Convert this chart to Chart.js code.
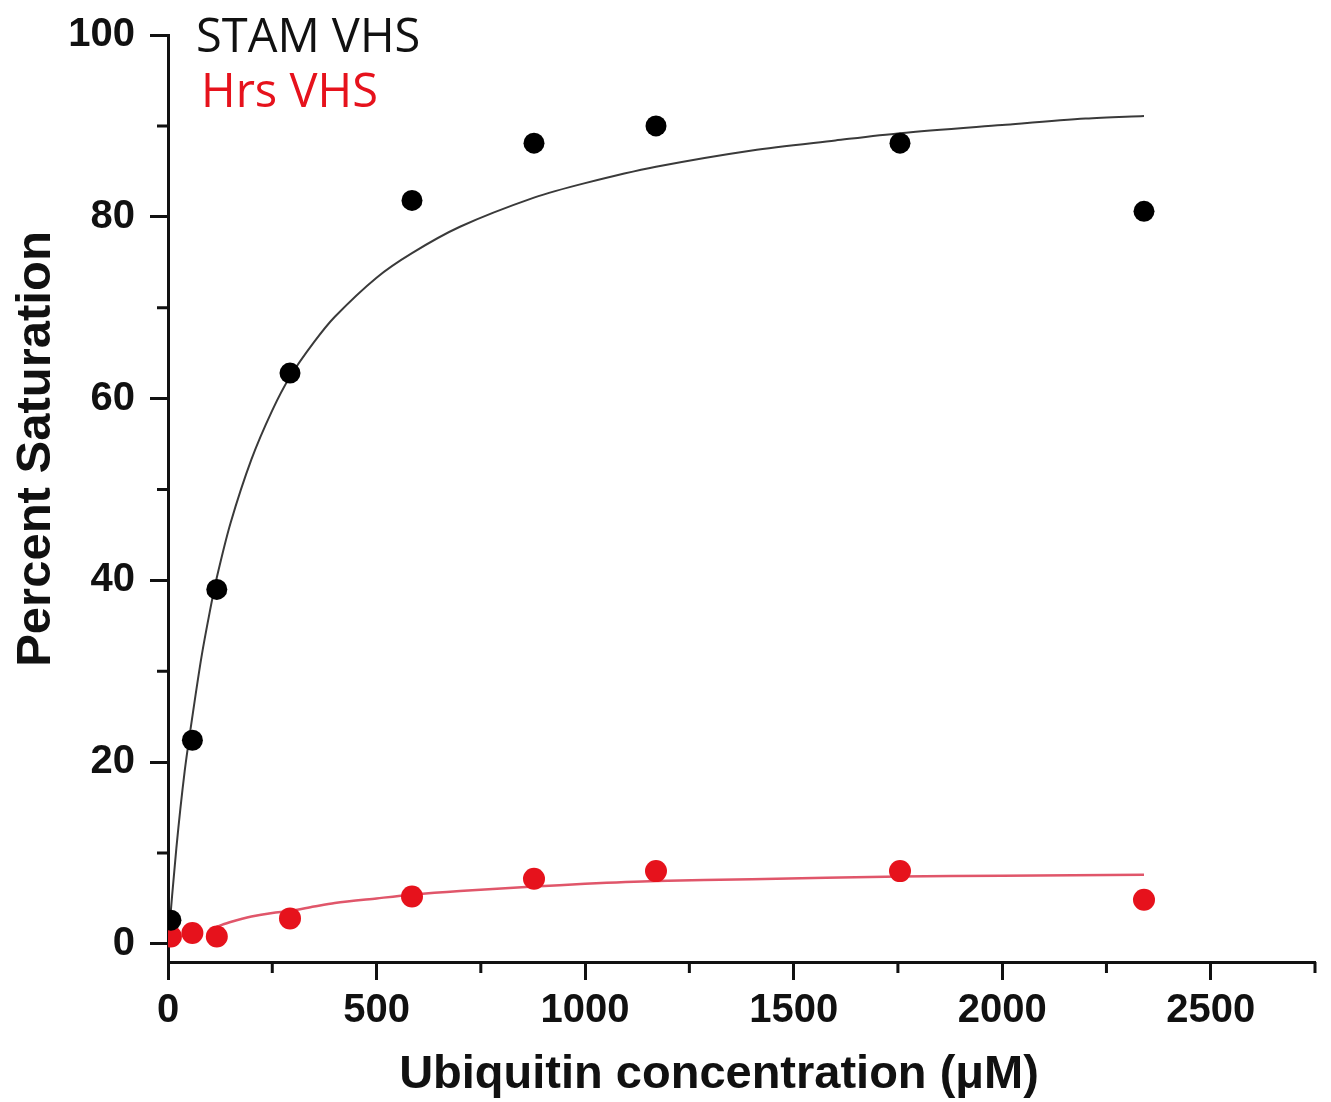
<!DOCTYPE html>
<html>
<head>
<meta charset="utf-8">
<script src="https://cdn.jsdelivr.net/npm/chart.js@4.4.1/dist/chart.umd.min.js"></script>
<style>
  html, body { margin: 0; padding: 0; background: #fff; }
  #wrap { width: 1331px; height: 1102px; }
</style>
</head>
<body>
<div id="wrap"><canvas id="chart"></canvas></div>
<script>
// measured points (ubiquitin concentration in uM)
const concentrations = [7, 58.5, 117, 292.5, 585, 877.5, 1170, 1755, 2340];
const stamSaturation = [2.6, 22.4, 39.0, 62.8, 81.8, 88.1, 90.0, 88.1, 80.6];
const hrsSaturation = [0.8, 1.2, 0.8, 2.8, 5.2, 7.15, 8.0, 8.0, 4.85];

// fitted curves
const stamFitX = [0, 20, 40, 60, 80, 100, 117, 150, 200, 250, 292.5, 350, 400, 500, 585, 700, 877.5, 1000, 1170, 1400, 1600, 1755, 2000, 2200, 2340];
const stamFitY = [0, 10.5, 19, 25.5, 31.5, 36.5, 40.3, 46.3, 53.3, 58.7, 62.4, 66.2, 69, 73.3, 76, 78.9, 82.1, 83.7, 85.5, 87.3, 88.4, 89.2, 90.1, 90.8, 91.1];
const hrsFitX = [117, 150, 200, 250, 292.5, 350, 400, 500, 585, 700, 877.5, 1000, 1170, 1400, 1755, 2000, 2340];
const hrsFitY = [1.9, 2.4, 3.0, 3.4, 3.6, 4.1, 4.5, 5.0, 5.4, 5.8, 6.3, 6.6, 6.9, 7.1, 7.4, 7.5, 7.6];

// axis ticks: labelled majors, short unlabelled minors
const xMajor = 500;
const xLastLabel = 2500;
const minorXTicks = [250, 750, 1250, 1750, 2250, 2750];
const minorYTicks = [10, 30, 50, 70, 90];

const xTitle = 'Ubiquitin concentration (\u03bcM)';
const yTitle = 'Percent Saturation';

const ink = '#111';
const red = '#e6121c';

const toPoints = (xs, ys) => xs.map((v, i) => ({ x: v, y: ys[i] }));

// minor ticks, axis titles and the text-only legend
const extras = {
  id: 'extras',
  afterDraw(chart) {
    const { ctx, scales: { x, y } } = chart;
    ctx.save();
    ctx.strokeStyle = ink;
    ctx.lineWidth = 3;
    ctx.beginPath();
    minorXTicks.forEach(v => {
      const px = x.getPixelForValue(v);
      ctx.moveTo(px, x.top);
      ctx.lineTo(px, x.top + 11);
    });
    minorYTicks.forEach(v => {
      const py = y.getPixelForValue(v);
      ctx.moveTo(y.right, py);
      ctx.lineTo(y.right - 11, py);
    });
    ctx.stroke();

    ctx.fillStyle = ink;
    ctx.textAlign = 'center';
    ctx.textBaseline = 'alphabetic';
    ctx.font = 'bold 47px "Liberation Sans", Arial, sans-serif';
    ctx.fillText(xTitle, 719, 1088);
    ctx.save();
    ctx.translate(50, 449);
    ctx.rotate(-Math.PI / 2);
    ctx.font = 'bold 49px "Liberation Sans", Arial, sans-serif';
    ctx.fillText(yTitle, 0, 0);
    ctx.restore();

    ctx.font = '47px "Open Sans", "Noto Sans", sans-serif';
    ctx.textAlign = 'left';
    ctx.fillStyle = ink;
    ctx.fillText(chart.data.datasets[0].label, 196, 52);
    ctx.fillStyle = red;
    ctx.fillText(chart.data.datasets[1].label, 201, 107);
    ctx.restore();
  }
};

const tickFont = { family: '"Liberation Sans", Arial, sans-serif', size: 40, weight: 'bold' };

new Chart(document.getElementById('chart'), {
  type: 'scatter',
  data: {
    datasets: [
      {
        label: 'STAM VHS',
        data: toPoints(concentrations, stamSaturation),
        backgroundColor: '#000',
        borderColor: '#000',
        pointRadius: 10.5,
        borderWidth: 0
      },
      {
        label: 'Hrs VHS',
        data: toPoints(concentrations, hrsSaturation),
        backgroundColor: red,
        borderColor: red,
        pointRadius: 11,
        borderWidth: 0
      },
      {
        label: 'STAM fit',
        data: toPoints(stamFitX, stamFitY),
        showLine: true,
        borderColor: '#3a3a3a',
        borderWidth: 2,
        pointRadius: 0,
        tension: 0.3
      },
      {
        label: 'Hrs fit',
        data: toPoints(hrsFitX, hrsFitY),
        showLine: true,
        borderColor: '#e0566a',
        borderWidth: 2.5,
        pointRadius: 0,
        tension: 0.3
      }
    ]
  },
  options: {
    responsive: true,
    maintainAspectRatio: false,
    animation: false,
    events: [],
    layout: { padding: { top: 35, right: 16, left: 0, bottom: 0 } },
    plugins: {
      legend: { display: false },
      tooltip: { enabled: false }
    },
    scales: {
      x: {
        type: 'linear',
        min: 0,
        max: 2750,
        afterFit: scale => {
          scale.height = 140;
          scale.paddingLeft = 0;
          scale.paddingRight = 0;
        },
        ticks: {
          stepSize: 250,
          includeBounds: false,
          autoSkip: false,
          maxRotation: 0,
          padding: 7,
          color: ink,
          font: tickFont,
          callback: v => (v % xMajor === 0 && v <= xLastLabel ? String(v) : '')
        },
        grid: {
          drawOnChartArea: false,
          tickLength: 18,
          tickWidth: 3,
          tickColor: c => (c.tick && c.tick.value % xMajor === 0 ? ink : 'rgba(0,0,0,0)')
        },
        border: { color: ink, width: 3 }
      },
      y: {
        type: 'linear',
        min: -2,
        max: 100,
        afterFit: scale => {
          scale.width = 168;
          scale.paddingTop = 0;
          scale.paddingBottom = 0;
        },
        ticks: {
          stepSize: 20,
          includeBounds: false,
          padding: 15,
          color: ink,
          font: tickFont,
          callback: v => String(v)
        },
        grid: { drawOnChartArea: false, tickLength: 18, tickWidth: 3, tickColor: ink },
        border: { color: ink, width: 3 }
      }
    }
  },
  plugins: [extras]
});
</script>
</body>
</html>
